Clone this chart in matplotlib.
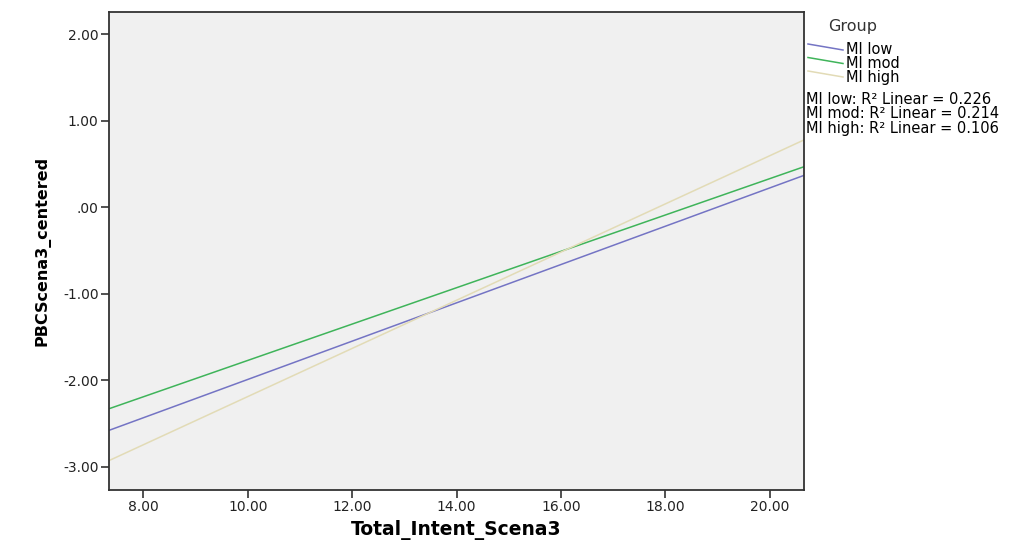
import matplotlib
matplotlib.use("Agg")
import matplotlib.pyplot as plt
from matplotlib.lines import Line2D

# fit lines, read at the left/right edges of the x range
x_ends = [7.34, 20.66]
groups = ["MI low", "MI mod", "MI high"]
y_ends = {
    "MI low": [-2.58, 0.37],
    "MI mod": [-2.33, 0.47],
    "MI high": [-2.93, 0.78],
}
r2 = {"MI low": 0.226, "MI mod": 0.214, "MI high": 0.106}
colors = {"MI low": "#7474c4", "MI mod": "#3fb45a", "MI high": "#e2dbb6"}

xticks = [8, 10, 12, 14, 16, 18, 20]
yticks = [-3, -2, -1, 0, 1, 2]

plt.rcParams["font.family"] = ["DejaVu Sans"]

fig = plt.figure(figsize=(10.27, 5.44), dpi=100)
ax = fig.add_axes([109 / 1027, 1 - 490 / 544, 695 / 1027, 478 / 544])
ax.set_facecolor("#f0f0f0")

for g in groups:
    ax.plot(x_ends, y_ends[g], color=colors[g], lw=1.1, label=g)

ax.set_xlim(7.34, 20.66)
ax.set_ylim(-3.27, 2.26)
ax.set_xticks(xticks)
ax.set_xticklabels(["%.2f" % v for v in xticks])
ax.set_yticks(yticks)
ax.set_yticklabels([("%.2f" % v).replace("0.00", ".00") for v in yticks])
ax.tick_params(direction="out", length=5.5, width=1.2, labelsize=10, pad=2,
               color="#333333", labelcolor="#222222")
for s in ax.spines.values():
    s.set_linewidth(1.3)
    s.set_color("#333333")

ax.set_xlabel("Total_Intent_Scena3", fontsize=13.5, fontweight="bold", labelpad=4)
ax.set_ylabel("PBCScena3_centered", fontsize=11.5, fontweight="bold", labelpad=9)

# legend on the right
fig.text(828 / 1027, 1 - 27 / 544, "Group", fontsize=11.5, va="center", ha="left",
         color="#333333")
for i, g in enumerate(groups):
    yp = 1 - (50 + 13.5 * i) / 544
    fig.add_artist(Line2D([808 / 1027, 843 / 1027], [yp + 6 / 544, yp],
                          color=colors[g], lw=1.1, transform=fig.transFigure))
fig.text(846 / 1027, 1 - 63.5 / 544, "\n".join(groups), fontsize=10.5,
         va="center", ha="left", linespacing=0.88)

r2_lines = ["%s: R² Linear = %.3f" % (g, r2[g]) for g in groups]
fig.text(806 / 1027, 1 - 114 / 544, "\n".join(r2_lines), fontsize=10.5,
         va="center", ha="left", linespacing=0.93)

fig.savefig("out.png", dpi=100)
